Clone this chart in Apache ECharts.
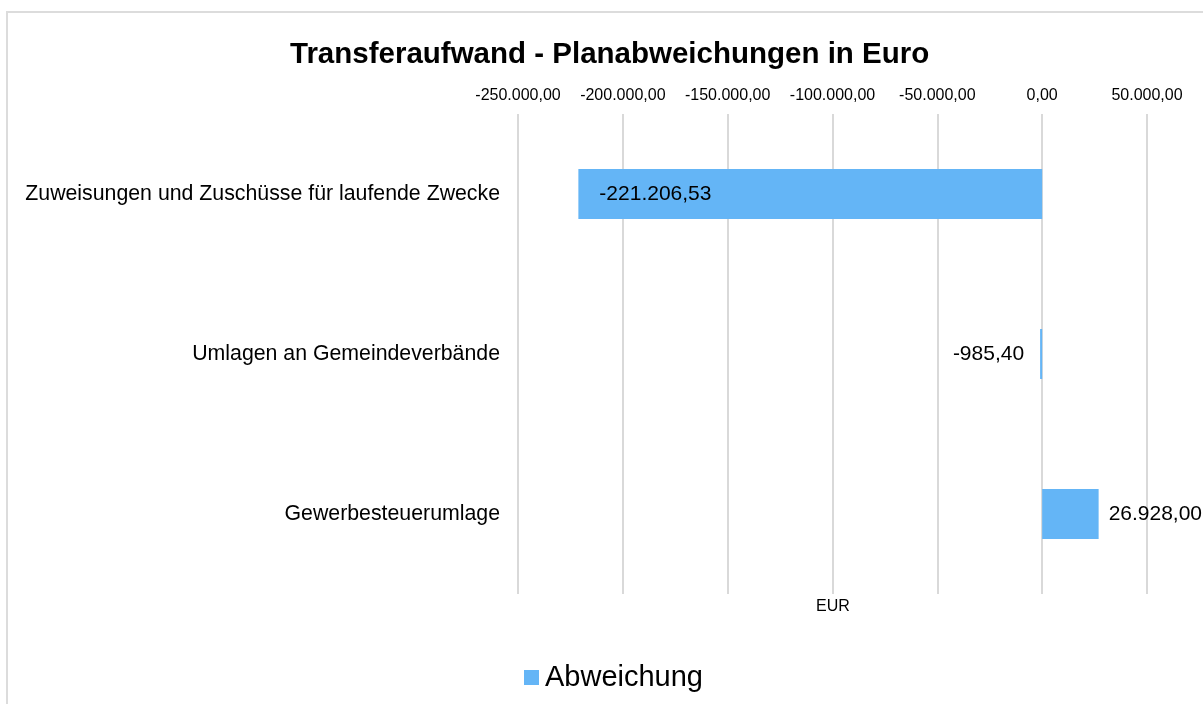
<!DOCTYPE html>
<html>
<head>
<meta charset="utf-8">
<script src="https://cdn.jsdelivr.net/npm/echarts@6/dist/echarts.min.js"></script>
<style>
html,body{margin:0;padding:0;background:#fff;}
#frame{position:absolute;left:6px;top:11px;width:1400px;height:900px;border-left:2px solid #dcdcdc;border-top:2px solid #dcdcdc;box-sizing:border-box;}
#chart{position:absolute;left:0;top:0;width:1203px;height:704px;}
</style>
</head>
<body>
<div id="frame"></div>
<div id="chart"></div>
<script>
var categories = ['Zuweisungen und Zuschüsse für laufende Zwecke', 'Umlagen an Gemeindeverbände', 'Gewerbesteuerumlage'];
var values = [-221206.53, -985.40, 26928.00];
var labelPositions = ['insideLeft', 'left', 'right'];
var labelDistances = [21, 16, 10];
var seriesName = 'Abweichung';
var axisMin = -250000, axisMax = 50000, axisStep = 50000;

function fmt(v) {
  var neg = v < 0;
  var a = Math.abs(v);
  var s = a.toFixed(2);
  var parts = s.split('.');
  var intPart = parts[0].replace(/\B(?=(\d{3})+(?!\d))/g, '.');
  return (neg ? '-' : '') + intPart + ',' + parts[1];
}

var chart = echarts.init(document.getElementById('chart'));
var font = 'Liberation Sans, Arial, sans-serif';
chart.setOption({
  backgroundColor: 'transparent',
  animation: false,
  title: {
    text: 'Transferaufwand - Planabweichungen in Euro',
    left: 285,
    top: 35,
    textStyle: {fontFamily: font, fontSize: 29.5, fontWeight: 'bold', color: '#000'}
  },
  legend: {
    data: [seriesName],
    left: 519,
    top: 658,
    itemWidth: 15,
    itemHeight: 15,
    itemGap: 10,
    icon: 'rect',
    textStyle: {fontFamily: font, fontSize: 29, color: '#000', padding: [0,0,0,1]}
  },
  graphic: [{
    type: 'text',
    left: 816,
    top: 599,
    style: {text: 'EUR', font: '16px ' + font, fill: '#000'}
  }],
  grid: {left: 518, right: 56, top: 114, bottom: 110},
  xAxis: {
    type: 'value',
    position: 'top',
    min: axisMin,
    max: axisMax,
    interval: axisStep,
    axisLine: {show: false},
    axisTick: {show: false},
    splitLine: {lineStyle: {color: '#d9d9d9', width: 2}},
    axisLabel: {fontFamily: font, fontSize: 16, color: '#000', margin: 10, formatter: fmt}
  },
  yAxis: {
    type: 'category',
    inverse: true,
    data: categories,
    axisLine: {show: false},
    axisTick: {show: false},
    axisLabel: {fontFamily: font, fontSize: 21.3, color: '#000', margin: 18}
  },
  series: [{
    name: seriesName,
    type: 'bar',
    barWidth: 50,
    itemStyle: {color: '#64B5F6'},
    data: values.map(function (v, i) {
      return {
        value: v,
        label: {
          show: true,
          position: labelPositions[i],
          distance: labelDistances[i],
          formatter: function (p) { return fmt(p.value); },
          fontFamily: font,
          fontSize: 21,
          color: '#000'
        }
      };
    })
  }]
});
</script>
</body>
</html>
